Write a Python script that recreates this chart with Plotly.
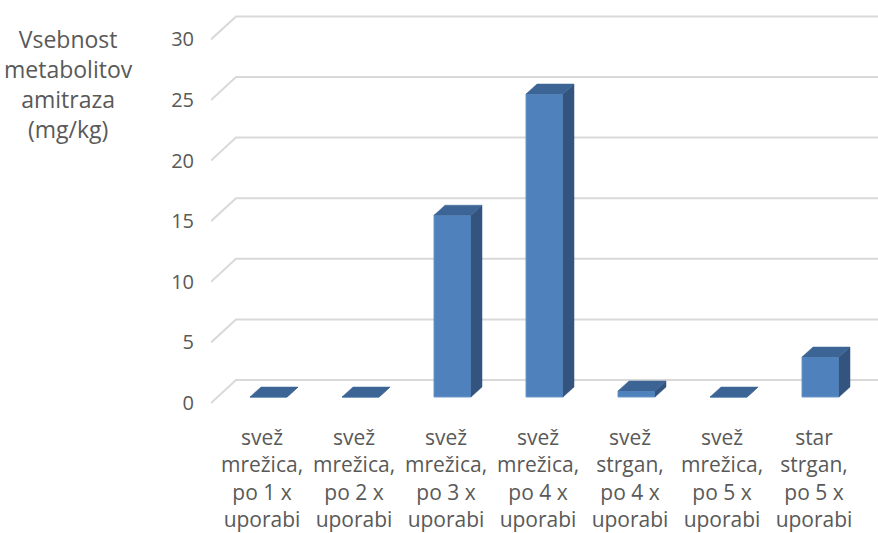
import plotly.graph_objects as go

categories = [
    "svež<br>mrežica,<br>po 1 x<br>uporabi",
    "svež<br>mrežica,<br>po 2 x<br>uporabi",
    "svež<br>mrežica,<br>po 3 x<br>uporabi",
    "svež<br>mrežica,<br>po 4 x<br>uporabi",
    "svež<br>strgan,<br>po 4 x<br>uporabi",
    "svež<br>mrežica,<br>po 5 x<br>uporabi",
    "star<br>strgan,<br>po 5 x<br>uporabi",
]
values = [0, 0, 15, 25, 0.5, 0, 3.3]
y_ticks = [0, 5, 10, 15, 20, 25, 30]
axis_title = "Vsebnost<br>metabolitov<br>amitraza<br>(mg/kg)"

# ---- pseudo-3D geometry (in axis units) ----
PX_PER_X = 92.0
PX_PER_Y = 12.12
WALL_DX = 25 / PX_PER_X      # depth offset of back wall
WALL_DY = 23 / PX_PER_Y
BAR_SHIFT_X = 6.5 / PX_PER_X  # bar front plane, behind floor front
BAR_BASE = 6 / PX_PER_Y
BAR_W = 37 / PX_PER_X
BAR_DX = 11 / PX_PER_X       # bar depth
BAR_DY = 10 / PX_PER_Y

X_MIN = (211 - 262) / PX_PER_X
X_MAX = (878 - 262) / PX_PER_X
Y_MAX = (403 - 10) / PX_PER_Y
Y_MIN = (403 - 405) / PX_PER_Y

FRONT = "#4f81bd"
TOP = "#3c6595"
SIDE = "#33547e"
GRID = "#d9d9d9"
TXT = "#595959"
FONT = "Open Sans"

fig = go.Figure()

# back-wall gridlines with diagonal to the front
shapes = []
for v in y_ticks:
    path = (f"M {X_MIN},{v} L {X_MIN + WALL_DX},{v + WALL_DY} "
            f"L {X_MAX + 1},{v + WALL_DY}")
    shapes.append(dict(type="path", path=path, xref="x", yref="y",
                       line=dict(color=GRID, width=2), layer="below"))

xs = list(range(len(values)))
x0s = [i + BAR_SHIFT_X - BAR_W / 2 for i in xs]

# front faces
fig.add_trace(go.Bar(
    x=[i + BAR_SHIFT_X for i in xs], y=values, base=[BAR_BASE] * len(values),
    width=BAR_W, marker=dict(color=FRONT, line=dict(color="#6a96cc", width=1)),
    hoverinfo="skip", showlegend=False))

# side and top faces
for x0, v in zip(x0s, values):
    x1 = x0 + BAR_W
    top = BAR_BASE + v
    fig.add_trace(go.Scatter(
        x=[x1, x1, x1 + BAR_DX, x1 + BAR_DX, x1],
        y=[BAR_BASE, top, top + BAR_DY, BAR_BASE + BAR_DY, BAR_BASE],
        mode="lines", fill="toself", fillcolor=SIDE,
        line=dict(color=SIDE, width=0.5), hoverinfo="skip", showlegend=False))
    fig.add_trace(go.Scatter(
        x=[x0, x1, x1 + BAR_DX, x0 + BAR_DX, x0],
        y=[top, top, top + BAR_DY, top + BAR_DY, top],
        mode="lines", fill="toself", fillcolor=TOP,
        line=dict(color=TOP, width=0.5), hoverinfo="skip", showlegend=False))

plot_w = 878 - 211
plot_h = 533 - 10 - 128

fig.update_layout(
    width=878, height=533,
    margin=dict(l=211, r=0, t=10, b=128),
    paper_bgcolor="white", plot_bgcolor="white",
    shapes=shapes,
    font=dict(family=FONT, color=TXT, size=20),
    xaxis=dict(range=[X_MIN, X_MAX], tickvals=xs, ticktext=categories,
               showgrid=False, zeroline=False, showline=False,
               tickfont=dict(family=FONT, size=21, color=TXT),
               ticklabelstandoff=18),
    yaxis=dict(range=[Y_MIN, Y_MAX], tickvals=y_ticks,
               showgrid=False, zeroline=False, showline=False,
               tickfont=dict(family=FONT, size=20, color=TXT),
               ticklabelstandoff=16),
    annotations=[dict(text=axis_title,
                      x=(68 - 211) / plot_w, y=(533 - 128 - 84) / plot_h,
                      xref="paper", yref="paper", showarrow=False,
                      xanchor="center", yanchor="middle", align="center",
                      font=dict(family=FONT, size=23, color=TXT))],
)

fig.write_html("out.html", config={"displayModeBar": False},
               post_script="document.body.style.margin='0';")
